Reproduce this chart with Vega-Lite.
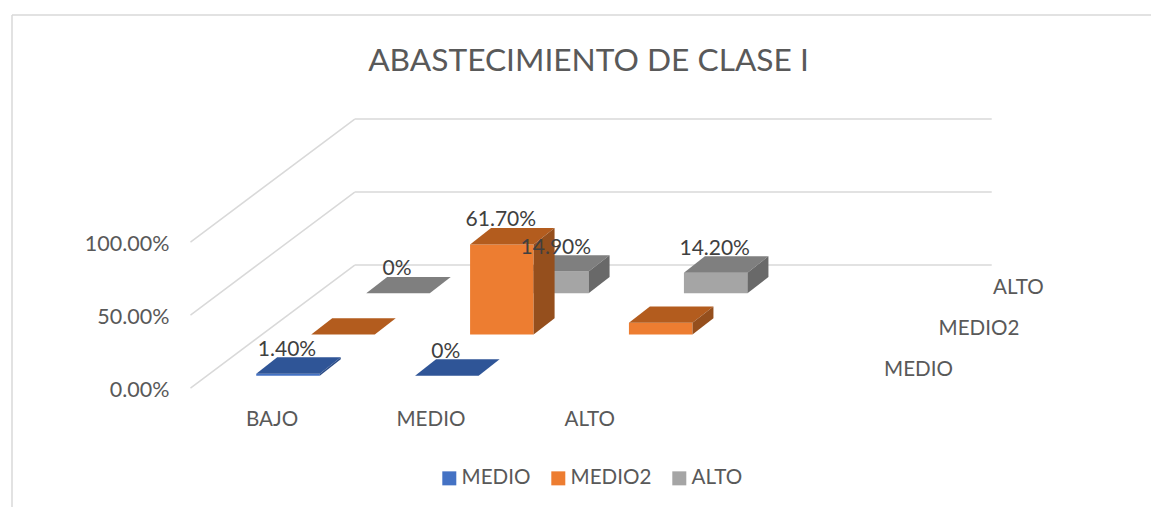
{
"$schema":"https://vega.github.io/schema/vega-lite/v6.json",
"width":1139,"height":492,
"autosize":"none",
"padding":{"left":12,"top":15,"right":0,"bottom":0},
"background":"white",
"title":{"text":"ABASTECIMIENTO DE CLASE I","font":"Lato","fontSize":31.7,"fontWeight":"normal","color":"#595959","anchor":"middle","frame":"group","dx":7,"offset":-63},
"config":{"view":{"stroke":null},"text":{"font":"Lato"}},
"datasets":{
"barras":[
{"categoria":"BAJO","serie":"MEDIO","valor":0.014,"etiqueta":"1.40%"},
{"categoria":"BAJO","serie":"MEDIO2","valor":0,"etiqueta":""},
{"categoria":"BAJO","serie":"ALTO","valor":0,"etiqueta":"0%"},
{"categoria":"MEDIO","serie":"MEDIO","valor":0,"etiqueta":"0%"},
{"categoria":"MEDIO","serie":"MEDIO2","valor":0.617,"etiqueta":"61.70%"},
{"categoria":"MEDIO","serie":"ALTO","valor":0.149,"etiqueta":"14.90%"},
{"categoria":"ALTO","serie":"MEDIO2","valor":0.08,"etiqueta":""},
{"categoria":"ALTO","serie":"ALTO","valor":0.142,"etiqueta":"14.20%"}
],
"niveles":[{"nivel":0},{"nivel":0.5},{"nivel":1}],
"categorias":[{"categoria":"BAJO"},{"categoria":"MEDIO"},{"categoria":"ALTO"}],
"series":[{"serie":"MEDIO"},{"serie":"MEDIO2"},{"serie":"ALTO"}]
},
"layer":[
{"data":{"values":[{"marco":"borde"}]},"mark":{"type":"rule","color":"#d9d9d9","strokeWidth":1.5},"encoding":{"x":{"value":0}}},
{"data":{"values":[{"marco":"borde"}]},"mark":{"type":"rule","color":"#d9d9d9","strokeWidth":1.5},"encoding":{"y":{"value":0}}},
{"data":{"name":"niveles"},
 "transform":[{"calculate":"-0.6139","as":"xa"},{"calculate":"0.4202","as":"xb"},{"calculate":"4.43","as":"xc"},{"calculate":"datum.nivel-0.0846","as":"ya"},{"calculate":"datum.nivel+0.7577","as":"yb"}],
 "layer":[
 {"mark":{"type":"rule","color":"#d9d9d9","strokeWidth":1.5},
  "encoding":{"x":{"field":"xa","type":"quantitative","axis":null,"scale":{"domain":[-1.7375,5.4327],"nice":false,"zero":false}},"x2":{"field":"xb"},
   "y":{"field":"ya","type":"quantitative","axis":null,"scale":{"domain":[-0.8993,2.4706],"nice":false,"zero":false}},"y2":{"field":"yb"}}},
 {"mark":{"type":"rule","color":"#d9d9d9","strokeWidth":1.5},
  "encoding":{"x":{"field":"xb","type":"quantitative","axis":null},"x2":{"field":"xc"},
   "y":{"field":"yb","type":"quantitative","axis":null}}},
 {"mark":{"type":"text","align":"right","baseline":"middle","dx":-21,"dy":3,"fontSize":21.5,"color":"#595959"},
  "encoding":{"x":{"field":"xa","type":"quantitative","axis":null},"y":{"field":"ya","type":"quantitative","axis":null},
   "text":{"field":"nivel","type":"quantitative","format":".2%"}}}
 ]},
{"data":{"name":"categorias"},
 "transform":[{"calculate":"indexof(['BAJO','MEDIO','ALTO'],datum.categoria)-0.1","as":"px"},{"calculate":"-0.2966","as":"py"}],
 "mark":{"type":"text","align":"center","baseline":"middle","dy":1,"fontSize":20.6,"color":"#595959"},
 "encoding":{"x":{"field":"px","type":"quantitative","axis":null},"y":{"field":"py","type":"quantitative","axis":null},"text":{"field":"categoria"}}},
{"data":{"name":"series"},
 "transform":[{"calculate":"3.752+indexof(['MEDIO','MEDIO2','ALTO'],datum.serie)*0.3432","as":"px"},{"calculate":"0.053+indexof(['MEDIO','MEDIO2','ALTO'],datum.serie)*0.282","as":"py"}],
 "mark":{"type":"text","align":"left","baseline":"middle","dy":2,"fontSize":20.6,"color":"#595959"},
 "encoding":{"x":{"field":"px","type":"quantitative","axis":null},"y":{"field":"py","type":"quantitative","axis":null},"text":{"field":"serie"}}},
{"data":{"name":"barras"},
 "transform":[{"filter":"datum.serie=='ALTO'"},
  {"calculate":"indexof(['BAJO','MEDIO','ALTO'],datum.categoria)+indexof(['MEDIO','MEDIO2','ALTO'],datum.serie)*0.3462","as":"x0"},
  {"calculate":"indexof(['MEDIO','MEDIO2','ALTO'],datum.serie)*0.282","as":"y0"},
  {"calculate":"datum.x0-0.2","as":"xl"},{"calculate":"datum.x0+0.2","as":"xr"},{"calculate":"datum.y0+datum.valor","as":"yt"},
  {"calculate":"[0,1]","as":"t"},{"flatten":["t"]},
  {"calculate":"datum.xl+datum.t*0.132","as":"xlt"},{"calculate":"datum.xr+datum.t*0.132","as":"xrt"},
  {"calculate":"datum.y0+datum.t*0.112","as":"ybt"},{"calculate":"datum.yt+datum.t*0.112","as":"ytt"}],
 "layer":[
 {"transform":[{"filter":"datum.t==0"}],"mark":{"type":"rect"},
  "encoding":{"x":{"field":"xl","type":"quantitative","axis":null},"x2":{"field":"xr"},"y":{"field":"y0","type":"quantitative","axis":null},"y2":{"field":"yt"},
   "color":{"field":"serie","type":"nominal","scale":{"domain":["MEDIO","MEDIO2","ALTO"],"range":["#4472C4","#ED7D31","#A5A5A5"]},
    "legend":{"title":null,"orient":"none","legendX":427,"legendY":453,"direction":"horizontal","symbolType":"square","symbolSize":196,"symbolStrokeWidth":0,"labelFont":"Lato","labelFontSize":20.6,"labelColor":"#595959","labelOffset":2,"columnPadding":17,"labelLimit":200,"values":["MEDIO","MEDIO2","ALTO"]}}}},
 {"mark":{"type":"area","orient":"horizontal","color":"#7F7F7F"},
  "encoding":{"x":{"field":"xlt","type":"quantitative","axis":null,"stack":null},"x2":{"field":"xrt"},"y":{"field":"ytt","type":"quantitative","axis":null,"stack":null},
   "detail":[{"field":"categoria"}]}},
 {"mark":{"type":"area","orient":"vertical","color":"#696969"},
  "encoding":{"x":{"field":"xrt","type":"quantitative","axis":null,"stack":null},"y":{"field":"ybt","type":"quantitative","axis":null,"stack":null},"y2":{"field":"ytt"},
   "detail":[{"field":"categoria"}]}}
 ]},
{"data":{"name":"barras"},
 "transform":[{"filter":"datum.serie!='ALTO'"},
  {"calculate":"indexof(['BAJO','MEDIO','ALTO'],datum.categoria)+indexof(['MEDIO','MEDIO2','ALTO'],datum.serie)*0.3462","as":"x0"},
  {"calculate":"indexof(['MEDIO','MEDIO2','ALTO'],datum.serie)*0.282","as":"y0"},
  {"calculate":"datum.x0-0.2","as":"xl"},{"calculate":"datum.x0+0.2","as":"xr"},{"calculate":"datum.y0+datum.valor","as":"yt"},
  {"calculate":"[0,1]","as":"t"},{"flatten":["t"]},
  {"calculate":"datum.xl+datum.t*0.132","as":"xlt"},{"calculate":"datum.xr+datum.t*0.132","as":"xrt"},
  {"calculate":"datum.y0+datum.t*0.112","as":"ybt"},{"calculate":"datum.yt+datum.t*0.112","as":"ytt"}],
 "layer":[
 {"transform":[{"filter":"datum.t==0"}],"mark":{"type":"rect"},
  "encoding":{"x":{"field":"xl","type":"quantitative","axis":null},"x2":{"field":"xr"},"y":{"field":"y0","type":"quantitative","axis":null},"y2":{"field":"yt"},
   "color":{"field":"serie","type":"nominal","scale":{"domain":["MEDIO","MEDIO2","ALTO"],"range":["#4472C4","#ED7D31","#A5A5A5"]},
    "legend":{"title":null,"orient":"none","legendX":427,"legendY":453,"direction":"horizontal","symbolType":"square","symbolSize":196,"symbolStrokeWidth":0,"labelFont":"Lato","labelFontSize":20.6,"labelColor":"#595959","labelOffset":2,"columnPadding":17,"labelLimit":200,"values":["MEDIO","MEDIO2","ALTO"]}}}},
 {"mark":{"type":"area","orient":"horizontal"},
  "encoding":{"x":{"field":"xlt","type":"quantitative","axis":null,"stack":null},"x2":{"field":"xrt"},"y":{"field":"ytt","type":"quantitative","axis":null,"stack":null},
   "fill":{"condition":{"test":"datum.serie=='MEDIO'","value":"#2F5597"},"value":"#B35C1E"},
   "detail":[{"field":"categoria"},{"field":"serie"}]}},
 {"mark":{"type":"area","orient":"vertical"},
  "encoding":{"x":{"field":"xrt","type":"quantitative","axis":null,"stack":null},"y":{"field":"ybt","type":"quantitative","axis":null,"stack":null},"y2":{"field":"ytt"},
   "fill":{"condition":{"test":"datum.serie=='MEDIO'","value":"#2B4C87"},"value":"#954F1D"},
   "detail":[{"field":"categoria"},{"field":"serie"}]}}
 ]},
{"data":{"name":"barras"},
 "transform":[{"filter":"datum.etiqueta!=''"},
  {"calculate":"indexof(['BAJO','MEDIO','ALTO'],datum.categoria)+indexof(['MEDIO','MEDIO2','ALTO'],datum.serie)*0.3462","as":"x0"},
  {"calculate":"indexof(['MEDIO','MEDIO2','ALTO'],datum.serie)*0.282+datum.valor","as":"yt"}],
 "mark":{"type":"text","align":"center","baseline":"middle","dy":-24,"dx":-1,"fontSize":21,"color":"#404040"},
 "encoding":{"x":{"field":"x0","type":"quantitative","axis":null},"y":{"field":"yt","type":"quantitative","axis":null},"text":{"field":"etiqueta"}}}
]
}
